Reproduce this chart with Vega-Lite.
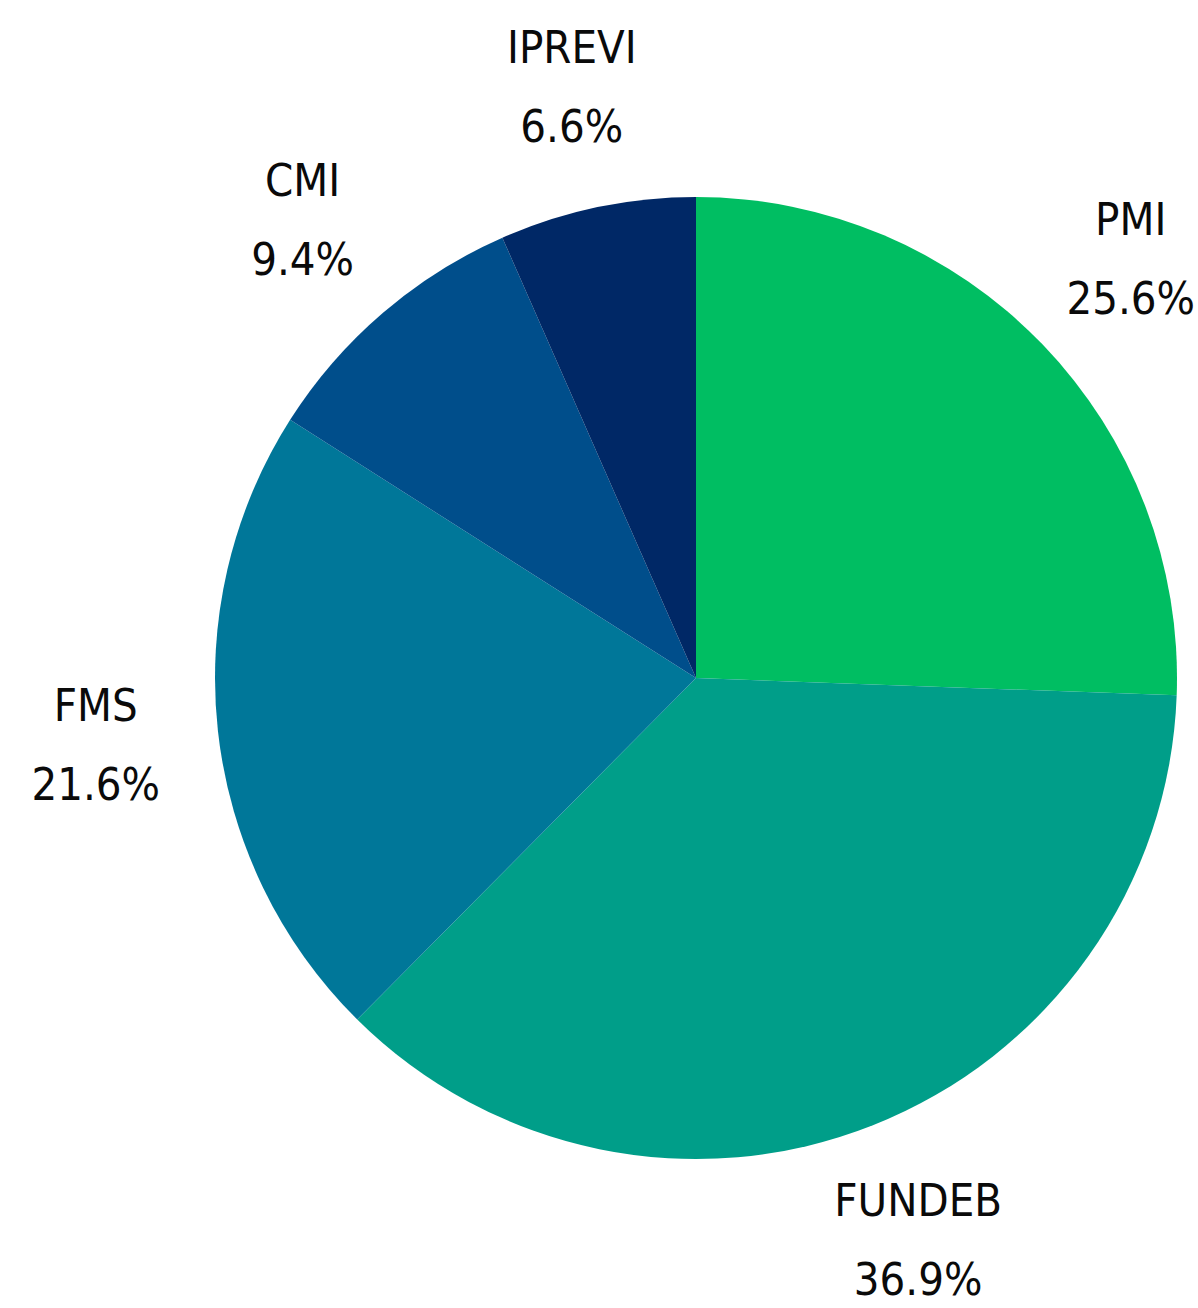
{
  "$schema": "https://vega.github.io/schema/vega-lite/v6.json",
  "width": 1000,
  "height": 1200,
  "autosize": {"type": "none"},
  "padding": {"left": 196, "top": 78, "right": 2, "bottom": 30},
  "background": "white",
  "config": {"view": {"stroke": null}},
  "data": {
    "values": [
      {"idx": 1, "name": "PMI", "pct": "25.6%", "value": 25.6},
      {"idx": 2, "name": "FUNDEB", "pct": "36.9%", "value": 36.9},
      {"idx": 3, "name": "FMS", "pct": "21.6%", "value": 21.6},
      {"idx": 4, "name": "CMI", "pct": "9.4%", "value": 9.4},
      {"idx": 5, "name": "IPREVI", "pct": "6.6%", "value": 6.6}
    ]
  },
  "encoding": {
    "theta": {"field": "value", "type": "quantitative", "stack": true},
    "order": {"field": "idx", "type": "quantitative"},
    "color": {
      "field": "name",
      "type": "nominal",
      "legend": null,
      "scale": {
        "domain": ["PMI", "FUNDEB", "FMS", "CMI", "IPREVI"],
        "range": ["#00BE62", "#009E89", "#007799", "#004E8B", "#002866"]
      }
    }
  },
  "layer": [
    {"mark": {"type": "arc", "outerRadius": 481}},
    {
      "mark": {"type": "text", "radius": 604, "dy": -38, "fontSize": 45, "font": "DejaVu Sans Condensed, sans-serif", "fontWeight": 500, "baseline": "middle", "align": "center"},
      "encoding": {"text": {"field": "name"}, "color": {"value": "#0a0a0a"}}
    },
    {
      "mark": {"type": "text", "radius": 604, "dy": 41, "fontSize": 45, "font": "DejaVu Sans Condensed, sans-serif", "fontWeight": 500, "baseline": "middle", "align": "center"},
      "encoding": {"text": {"field": "pct"}, "color": {"value": "#0a0a0a"}}
    }
  ]
}
